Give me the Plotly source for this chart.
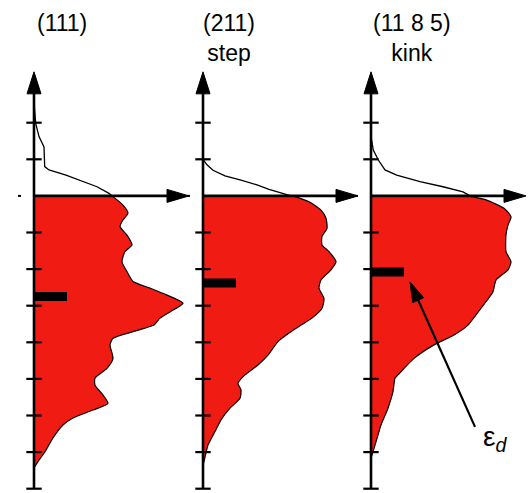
import plotly.graph_objects as go
import math

# ---------------- data (energy in tick units, E_F = 0; DOS in arbitrary units) ----------------
titles = ["(111)", "(211)<br>step", "(11 8 5)<br>kink"]

E1_occ = [0, -0.25, -0.47, -0.70, -0.84, -1.07, -1.34, -1.52, -1.80, -2.07, -2.34, -2.52, -2.71, -2.93,
          -3.12, -3.34, -3.53, -3.62, -3.71, -3.89, -4.07, -4.44, -4.71, -4.98, -5.17, -5.44, -5.67,
          -5.85, -6.07, -6.26, -6.61, -6.99, -7.26, -7.43]
D1_occ = [0.78, 0.89, 0.94, 0.88, 0.86, 0.93, 0.98, 0.91, 0.88, 0.93, 0.99, 1.16, 1.33, 1.49,
          1.39, 1.26, 1.20, 1.10, 0.99, 0.79, 0.76, 0.79, 0.73, 0.61, 0.61, 0.69, 0.74,
          0.59, 0.39, 0.29, 0.19, 0.11, 0.04, 0.0]
E1_emp = [2.55, 1.98, 1.62, 1.48, 1.34, 0.80, 0.71, 0.57, 0.39, 0.25, 0.07, 0.0]
D1_emp = [0.0, 0.017, 0.05, 0.075, 0.10, 0.107, 0.15, 0.32, 0.50, 0.63, 0.75, 0.78]

E2_occ = [0, -0.16, -0.39, -0.61, -0.89, -1.11, -1.34, -1.52, -1.80, -2.02, -2.30, -2.52, -2.80, -3.07,
          -3.34, -3.53, -3.71, -3.98, -4.35, -4.62, -4.89, -5.12, -5.30, -5.53, -5.80, -6.12, -6.44,
          -6.81, -7.26, -7.35]
D2_occ = [0.90, 1.06, 1.18, 1.23, 1.24, 1.19, 1.19, 1.26, 1.33, 1.28, 1.18, 1.16, 1.21, 1.19,
          1.09, 0.98, 0.88, 0.75, 0.65, 0.55, 0.42, 0.35, 0.38, 0.37, 0.27, 0.18, 0.12,
          0.05, 0.01, 0.0]
E2_emp = [1.0, 0.85, 0.70, 0.55, 0.43, 0.30, 0.18, 0.08, 0.0]
D2_emp = [0.0, 0.04, 0.10, 0.22, 0.38, 0.54, 0.66, 0.78, 0.88]

E3_occ = [0, -0.11, -0.34, -0.57, -0.80, -1.07, -1.52, -1.80, -2.02, -2.30, -2.62, -2.89, -3.25,
          -3.53, -3.80, -4.07, -4.44, -4.89, -4.98, -5.35, -5.80, -6.26, -6.72, -7.17]
D3_occ = [0.97, 1.15, 1.33, 1.40, 1.37, 1.35, 1.35, 1.40, 1.37, 1.25, 1.22, 1.15, 1.05,
          0.97, 0.83, 0.63, 0.43, 0.27, 0.24, 0.22, 0.17, 0.10, 0.05, 0.0]
E3_emp = [1.62, 1.25, 0.98, 0.71, 0.57, 0.39, 0.25, 0.11, 0.0]
D3_emp = [0.0, 0.023, 0.073, 0.14, 0.257, 0.49, 0.72, 0.92, 0.99]

eps_d = [-2.75, -2.38, -2.08]          # d-band centre of each surface
tick_E = [2, 1, -1, -2, -3, -4, -5, -6, -7, -8]
E_top, E_bot = 3.39, -8.0               # extent of energy axis
DOS_axis_end = 1.55
eps_label = "ε<sub><i>d</i></sub>"

occ = [(E1_occ, D1_occ), (E2_occ, D2_occ), (E3_occ, D3_occ)]
emp = [(E1_emp, D1_emp), (E2_emp, D2_emp), (E3_emp, D3_emp)]

# ---------------- layout geometry ----------------
W, H = 531, 493
PX_X, PX_Y = 100.0, 36.6          # pixels per data unit
Y_EF = 195.9                      # pixel row of E_F
origins = [34, 203, 371]          # pixel column of each energy axis
LEFT, RIGHT = 20, 158
RED = "#f01c14"
FONT = "Liberation Sans, Arial, sans-serif"

fig = go.Figure()
shapes = []
annotations = []


def head(xr, yr, tx, ty, ux, uy, L, Wd):
    bx, by = -ux * L, -uy * L
    px, py = -uy, ux
    pts = [(0, 0), (bx + px * Wd / 2, by + py * Wd / 2), (bx - px * Wd / 2, by - py * Wd / 2)]
    d = "M " + " L ".join(f"{tx + dx / PX_X:.4f},{ty - dy / PX_Y:.4f}" for dx, dy in pts) + " Z"
    return dict(type="path", xref=xr, yref=yr, path=d, fillcolor="black",
                line=dict(color="black", width=1), layer="above")


for i in range(3):
    xa = "x" if i == 0 else f"x{i + 1}"
    xr = xa
    Eo, Do = occ[i]
    Ee, De = emp[i]
    fig.add_trace(go.Scatter(x=Do, y=Eo, xaxis=xa, yaxis="y", mode="lines", fill="tozerox",
                             fillcolor=RED, line=dict(color="black", width=1.2, shape="spline", smoothing=0.6),
                             hoverinfo="skip", showlegend=False))
    fig.add_trace(go.Scatter(x=De, y=Ee, xaxis=xa, yaxis="y", mode="lines",
                             line=dict(color="black", width=1.3), hoverinfo="skip", showlegend=False))
    fig.add_trace(go.Scatter(x=[0, 0.33], y=[eps_d[i], eps_d[i]], xaxis=xa, yaxis="y", mode="lines",
                             line=dict(color="black", width=9), hoverinfo="skip", showlegend=False))
    fig.add_trace(go.Scatter(x=[0] * len(tick_E), y=tick_E, xaxis=xa, yaxis="y", mode="markers",
                             marker=dict(symbol="line-ew", size=11, line=dict(color="black", width=2.2)),
                             hoverinfo="skip", showlegend=False))
    # energy axis (vertical) with arrow
    shapes.append(dict(type="line", xref=xr, yref="y", x0=0, x1=0, y0=E_bot, y1=E_top - 18 / PX_Y,
                       line=dict(color="black", width=2.6), layer="above"))
    shapes.append(head(xr, "y", 0, E_top, 0, -1, 22, 14))
    # DOS axis (horizontal) at E_F with arrow
    shapes.append(dict(type="line", xref=xr, yref="y", x0=0, x1=DOS_axis_end - 18 / PX_X, y0=0, y1=0,
                       line=dict(color="black", width=2.6), layer="above"))
    shapes.append(head(xr, "y", DOS_axis_end, 0, 1, 0, 22, 13))
    shapes.append(dict(type="line", xref=xr, yref="y", x0=-0.16, x1=-0.13, y0=0, y1=0,
                       line=dict(color="black", width=2), layer="above"))

    dom0 = (origins[i] - LEFT) / W
    dom1 = (origins[i] + RIGHT) / W
    key = "xaxis" if i == 0 else f"xaxis{i + 1}"
    fig.layout[key] = dict(domain=[dom0, dom1], range=[-LEFT / PX_X, RIGHT / PX_X], anchor="y",
                           visible=False, fixedrange=True)

# titles
title_pos = [(62, 23), (229, 38), (412, 38)]
for t, (px, py) in zip(titles, title_pos):
    annotations.append(dict(text=t, x=px / W, y=1 - py / H, xref="paper", yref="paper",
                            showarrow=False, xanchor="center", yanchor="middle",
                            font=dict(family=FONT, size=23, color="black")))

# eps_d arrow in panel 3
tail = (1.04, -6.31)
tip = (0.39, eps_d[2] - 0.27)
dxp = (tip[0] - tail[0]) * PX_X
dyp = -(tip[1] - tail[1]) * PX_Y
n = math.hypot(dxp, dyp)
ux, uy = dxp / n, dyp / n
shapes.append(dict(type="line", xref="x3", yref="y", x0=tail[0], y0=tail[1],
                   x1=tip[0] - ux * 16 / PX_X, y1=tip[1] + uy * 16 / PX_Y,
                   line=dict(color="black", width=2.2), layer="above"))
shapes.append(head("x3", "y", tip[0], tip[1], ux, uy, 20, 12))
annotations.append(dict(text=eps_label, x=1.10, y=-6.62, xref="x3", yref="y", showarrow=False,
                        xanchor="left", yanchor="middle",
                        font=dict(family=FONT, size=28, color="black")))

fig.update_layout(
    width=W, height=H, margin=dict(l=0, r=0, t=0, b=0),
    paper_bgcolor="white", plot_bgcolor="rgba(0,0,0,0)",
    yaxis=dict(domain=[0, 1], range=[(Y_EF - H) / PX_Y, Y_EF / PX_Y], anchor="x",
               visible=False, fixedrange=True),
    shapes=shapes, annotations=annotations, showlegend=False,
)

fig.write_html("out.html", config={"displayModeBar": False, "staticPlot": True},
               post_script="document.body.style.margin='0';document.body.style.overflow='hidden';")
